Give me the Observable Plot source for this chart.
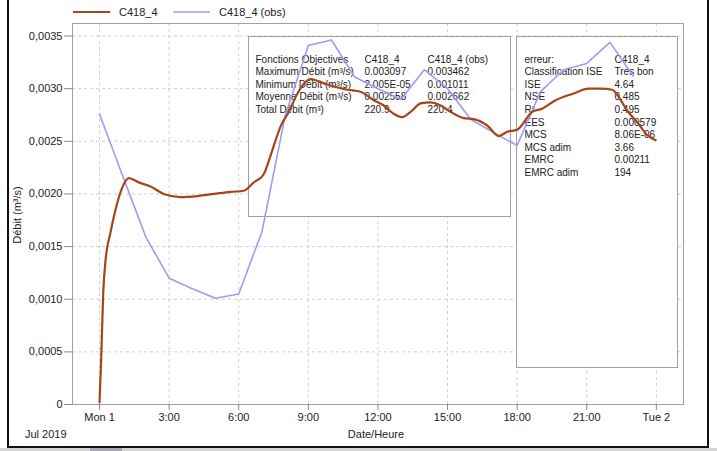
<!DOCTYPE html>
<html><head><meta charset="utf-8">
<script src="https://cdn.jsdelivr.net/npm/d3@7"></script>
<script src="https://cdn.jsdelivr.net/npm/@observablehq/plot@0.6"></script>
<style>
body{margin:0;background:#fff;}
#wrap{position:relative;width:717px;height:451px;overflow:hidden;font-family:"Liberation Sans",Arial,sans-serif;background:#fff;}
#chart{position:absolute;left:0;top:0;}
#border{position:absolute;left:7px;top:-3px;width:702px;height:451px;border:2px solid #111;border-top:none;box-sizing:border-box;pointer-events:none;}
#strip{position:absolute;left:0;top:448px;width:717px;height:3px;background:#d4d4d4;}
#thumb{position:absolute;left:90px;top:448px;width:32px;height:3px;background:#a8a8b0;}
</style></head>
<body><div id="wrap"><div id="chart"></div><div id="border"></div><div id="strip"></div><div id="thumb"></div></div>
<script>
// ---- data (hours from 2019-07-01 00:00) ----
const simHours  = [0, 0.07, 0.16, 0.26, 0.47, 0.76, 0.98, 1.26, 1.69, 2.2, 2.77, 3.49, 4.21, 4.93, 5.65, 6.22, 6.65, 7.06, 7.44, 7.8, 8.16, 8.52, 9.09, 9.67, 10.68, 11.25, 11.82, 12.25, 12.69, 13.05, 13.41, 13.84, 14.27, 14.7, 15.13, 15.7, 16.13, 16.71, 17.21, 17.57, 18.0, 18.65, 19.08, 19.66, 20.38, 21.09, 21.6, 22.1, 22.38, 22.75, 23.18, 23.6, 23.97];
const simValues = [0.00002, 0.00042, 0.00106, 0.00137, 0.00163, 0.00191, 0.00206, 0.00215, 0.00211, 0.00207, 0.00200, 0.00197, 0.00198, 0.00200, 0.00202, 0.00203, 0.00211, 0.00218, 0.00241, 0.00264, 0.00278, 0.00295, 0.00309, 0.00305, 0.00299, 0.00297, 0.00289, 0.00284, 0.00276, 0.00273, 0.00278, 0.00286, 0.00287, 0.00284, 0.00278, 0.00272, 0.00271, 0.00265, 0.00255, 0.00259, 0.00261, 0.00278, 0.00281, 0.00289, 0.00295, 0.00300, 0.00300, 0.00299, 0.00292, 0.00279, 0.00268, 0.00256, 0.00251];
const obsHours  = [0, 1, 2, 3, 4, 5, 6, 7, 8, 9, 10, 11, 12, 13, 14, 15, 16, 17, 18, 19, 20, 21, 22, 23];
const obsValues = [0.00276, 0.00217, 0.00159, 0.00120, 0.00110, 0.00101, 0.00105, 0.00164, 0.00274, 0.00341, 0.003462, 0.00311, 0.00300, 0.00290, 0.00318, 0.00300, 0.00271, 0.00258, 0.00246, 0.00297, 0.00318, 0.00324, 0.00344, 0.00312];

const xTickHours  = [0, 3, 6, 9, 12, 15, 18, 21, 24];
const xTickLabels = ["Mon 1", "3:00", "6:00", "9:00", "12:00", "15:00", "18:00", "21:00", "Tue 2"];
const yTicks      = [0, 0.0005, 0.0010, 0.0015, 0.0020, 0.0025, 0.0030, 0.0035];
const yTickLabels = ["0", "0,0005", "0,0010", "0,0015", "0,0020", "0,0025", "0,0030", "0,0035"];

const seriesNames  = ["C418_4", "C418_4 (obs)"];
const seriesColors = ["#a6441a", "#9c9cf6"];

const statsHeader = ["Fonctions Objectives", "C418_4", "C418_4 (obs)"];
const statsLabels = ["Maximum Débit (m³/s)", "Minimum Débit (m³/s)", "Moyenne Débit (m³/s)", "Total Débit (m³)"];
const statsSim    = ["0.003097", "2.005E-05", "0.002558", "220.9"];
const statsObs    = ["0.003462", "0.001011", "0.002662", "220.4"];

const errLabels = ["erreur:", "Classification ISE", "ISE", "NSE", "R²", "EES", "MCS", "MCS adim", "EMRC", "EMRC adim"];
const errValues = ["C418_4", "Tres bon", "4.64", "0.485", "0.495", "0.000579", "8.06E-06", "3.66", "0.00211", "194"];

const xAxisTitle = "Date/Heure";
const yAxisTitle = "Débit (m³/s)";
const periodLabel = "Jul 2019";

// ---- build ----
const base = Date.UTC(2019, 6, 1);
const toDate = h => new Date(base + h * 3600e3);
const sim = simHours.map((h, i) => ({t: toDate(h), v: simValues[i]}));
const obs = obsHours.map((h, i) => ({t: toDate(h), v: obsValues[i]}));
const xTicks = xTickHours.map(toDate);
const fmtX = d => { const i = xTicks.findIndex(t => +t === +d); return i >= 0 ? xTickLabels[i] : ""; };
const fmtY = d => { const i = yTicks.findIndex(t => Math.abs(t - d) < 1e-9); return i >= 0 ? yTickLabels[i] : ""; };

const font = '"Liberation Sans", Arial, sans-serif';
const gridStyle = {stroke: "#cfcfcf", strokeOpacity: 1, strokeDasharray: "3,3"};

const svg = Plot.plot({
  width: 717, height: 451,
  marginLeft: 72, marginRight: 34, marginTop: 23, marginBottom: 47,
  style: {fontFamily: font, fontSize: "11px", color: "#222", background: "transparent"},
  x: {type: "utc", domain: [toDate(-1.164), toDate(25.17)]},
  y: {domain: [0, 0.003619]},
  marks: [
    Plot.gridX(xTicks, gridStyle),
    Plot.gridY(yTicks, gridStyle),
    Plot.frame({stroke: "#a0a0a0"}),
    Plot.axisX(xTicks, {tickSize: 6, tickPadding: 3, tickFormat: fmtX, stroke: "#8a8a8a", label: null}),
    Plot.axisY(yTicks, {tickSize: 8, tickPadding: 2, tickFormat: fmtY, stroke: "#8a8a8a", label: null}),
    Plot.line(obs, {x: "t", y: "v", stroke: seriesColors[1], strokeWidth: 1.6}),
    Plot.line(sim, {x: "t", y: "v", stroke: seriesColors[0], strokeWidth: 2.2, curve: "monotone-x"})
  ]
});
document.getElementById("chart").appendChild(svg);

// ---- annotation layer (below data lines) ----
const firstLine = svg.querySelector('g[aria-label="line"]');
const layer = d3.create("svg:g").attr("font-family", font).attr("fill", "#222").attr("text-anchor", "start").node();
svg.insertBefore(layer, firstLine);
const L = d3.select(layer);
const txt = (sel, x, y, s) => sel.append("text").attr("x", x).attr("y", y).attr("dy", "0.35em").attr("font-size", 10).attr("text-anchor", "start").text(s);

// stats box 1
L.append("rect").attr("x", 248.5).attr("y", 36.5).attr("width", 262).attr("height", 180)
  .attr("fill", "#fff").attr("stroke", "#a0a0a0");
const rowY0 = 59, rowStep = 12.5;
const cols1 = [255.5, 364.5, 427.5];
statsHeader.forEach((t, j) => txt(L, cols1[j], rowY0, t));
statsLabels.forEach((t, i) => {
  const y = rowY0 + (i + 1) * rowStep;
  txt(L, cols1[0], y, t);
  txt(L, cols1[1], y, statsSim[i]);
  txt(L, cols1[2], y, statsObs[i]);
});

// stats box 2
L.append("rect").attr("x", 516.5).attr("y", 36.5).attr("width", 161).attr("height", 331)
  .attr("fill", "#fff").attr("stroke", "#a0a0a0");
errLabels.forEach((t, i) => {
  const y = rowY0 + i * 12.6;
  txt(L, 524.5, y, t);
  txt(L, 614.5, y, errValues[i]);
});

// top layer: legend and axis titles
const T = d3.select(svg).append("g").attr("font-family", font).attr("fill", "#222").attr("font-size", 11).attr("text-anchor", "start");
T.append("line").attr("x1", 73).attr("x2", 110).attr("y1", 12).attr("y2", 12).attr("stroke", seriesColors[0]).attr("stroke-width", 2.2);
T.append("text").attr("x", 119).attr("y", 12).attr("dy", "0.35em").attr("text-anchor", "start").text(seriesNames[0]);
T.append("line").attr("x1", 173).attr("x2", 210).attr("y1", 12).attr("y2", 12).attr("stroke", seriesColors[1]).attr("stroke-width", 1.6);
T.append("text").attr("x", 219).attr("y", 12).attr("dy", "0.35em").attr("text-anchor", "start").text(seriesNames[1]);
T.append("text").attr("transform", "translate(17,215) rotate(-90)").attr("text-anchor", "middle").attr("dy", "0.35em").text(yAxisTitle);
T.append("text").attr("x", 376).attr("y", 434).attr("text-anchor", "middle").attr("dy", "0.35em").text(xAxisTitle);
T.append("text").attr("x", 25).attr("y", 434).attr("dy", "0.35em").attr("text-anchor", "start").text(periodLabel);
</script>
</body></html>
